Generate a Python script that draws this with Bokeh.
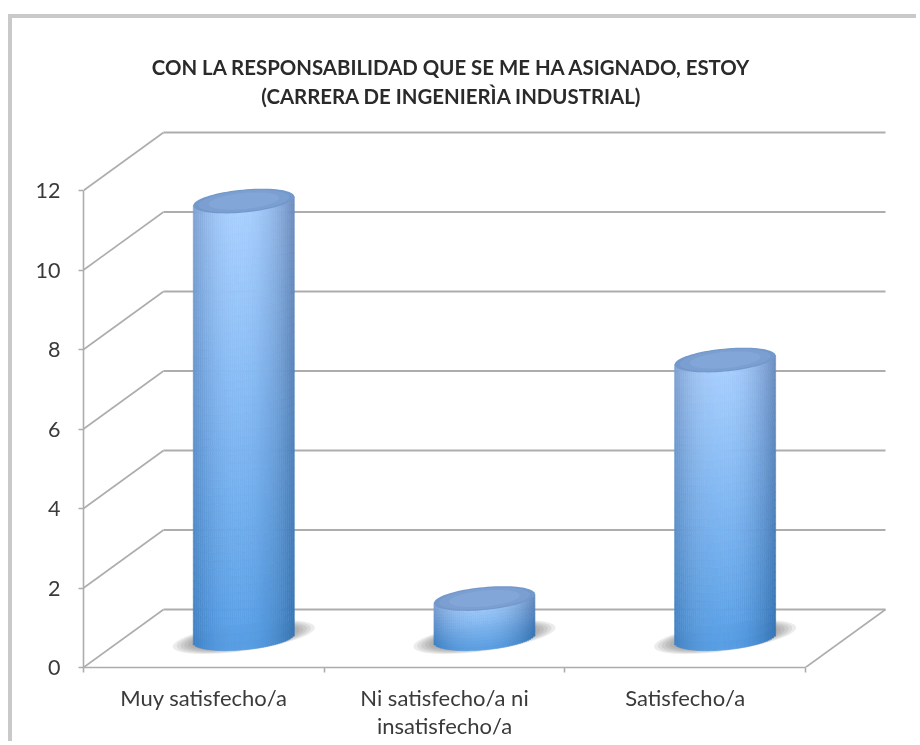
import numpy as np
from bokeh.embed import file_html
from bokeh.resources import INLINE
from bokeh.plotting import figure
from bokeh.models import Range1d, FixedTicker, LinearAxis, Label, ColumnDataSource, InlineStyleSheet

categories = ["Muy satisfecho/a", "Ni satisfecho/a ni\ninsatisfecho/a", "Satisfecho/a"]
values = [11, 1, 7]
y_ticks = [0, 2, 4, 6, 8, 10, 12]
title_lines = ["CON LA RESPONSABILIDAD QUE SE ME HA ASIGNADO, ESTOY", "(CARRERA DE INGENIERÌA INDUSTRIAL)"]

PX_X, PX_Y = 240.67, 39.75     # pixels per category, pixels per value unit
DEPTH_X, DEPTH_Y = 80 / PX_X, 58 / PX_Y
BAR_DX, BAR_DY = 0.166, 0.735  # cylinder axis position within the depth
R, B, TILT = 50.5 / PX_X, 11.5 / PX_Y, 4.5 / PX_Y
FONT = "Lato"
TXT = "#3a3a3a"

W, H = 908, 727
L, T = 71, 0
Rm, Bm = 28, 78
fw, fh = W - L - Rm, H - T - Bm

p = figure(width=W, height=H, output_backend="svg", toolbar_location=None,
           x_range=Range1d(0, fw / PX_X), y_range=Range1d(0, fh / PX_Y),
           x_axis_type=None, y_axis_type=None,
           min_border_left=L, min_border_right=Rm, min_border_top=T, min_border_bottom=Bm)
p.outline_line_color = None
p.grid.visible = False
p.background_fill_color = "white"
p.stylesheets = [InlineStyleSheet(css=":host{margin:14px 0 0 8px;border-left:4px solid #c9c9c9;"
                                      "border-top:4px solid #c9c9c9;filter:blur(0.75px);}")]

# walls and floor
GRID = "#adadad"
nc = len(categories)
p.segment(x0=[0] * len(y_ticks), y0=y_ticks, x1=[DEPTH_X] * len(y_ticks),
          y1=[t + DEPTH_Y for t in y_ticks], line_color=GRID, line_width=1.6)
p.segment(x0=[DEPTH_X] * len(y_ticks), y0=[t + DEPTH_Y for t in y_ticks],
          x1=[nc + DEPTH_X] * len(y_ticks), y1=[t + DEPTH_Y for t in y_ticks],
          line_color=GRID, line_width=1.8)
p.line(x=[nc, nc + DEPTH_X], y=[0, DEPTH_Y], line_color=GRID, line_width=1.6)


def mix(a, b, t):
    return tuple(a[i] + (b[i] - a[i]) * t for i in range(3))


def hexc(c):
    return "#%02x%02x%02x" % tuple(int(round(v)) for v in c)


CEN_TOP, CEN_BOT = (170, 208, 254), (88, 158, 228)
EDGE_TOP, EDGE_BOT = (108, 140, 190), (52, 116, 180)

# shadows
for scale in np.linspace(1.0, 0.62, 8):
    xs, ys = [], []
    for i in range(nc):
        a = np.linspace(0, 2 * np.pi, 60)
        cx = i + 0.5 + BAR_DX
        xs.append(cx + scale * 71 / PX_X * np.cos(a))
        ys.append(BAR_DY + 0.03 + scale * (9.5 * np.cos(a) + 14 * np.sin(a)) / PX_Y)
    p.patches(xs=[list(x) for x in xs], ys=[list(y) for y in ys],
              fill_color="#6e6e6e", fill_alpha=0.13, line_color=None)

# cylinder bodies
q = dict(left=[], right=[], top=[], bottom=[], color=[])
NCOL = 50
for i, v in enumerate(values):
    cx = i + 0.5 + BAR_DX
    nrow = max(16, int(v * 5))
    edges = np.linspace(-1, 1, NCOL + 1)
    for k in range(NCOL):
        u0, u1 = edges[k], edges[k + 1]
        u = (u0 + u1) / 2
        s = np.sqrt(1 - u * u)
        low = BAR_DY + TILT * u - B * s
        high = BAR_DY + v + TILT * u
        h = np.clip(abs(u + 0.08) / 1.08, 0, 1) ** 2.2
        for r in range(nrow):
            f0, f1 = r / nrow, (r + 1) / nrow
            fm = (f0 + f1) / 2
            c = mix(mix(CEN_BOT, CEN_TOP, fm), mix(EDGE_BOT, EDGE_TOP, fm), h)
            q["left"].append(cx + u0 * R)
            q["right"].append(cx + u1 * R)
            q["bottom"].append(low + (high - low) * f0)
            q["top"].append(low + (high - low) * f1)
            q["color"].append(hexc(c))
p.quad(left="left", right="right", top="top", bottom="bottom", fill_color="color",
       line_color="color", line_width=0.6, source=ColumnDataSource(q))

# cylinder caps
for scale, col in [(1.0, "#7398cb"), (0.9, "#7b9fd1"), (0.7, "#82a6d7")]:
    xs, ys = [], []
    for i, v in enumerate(values):
        a = np.linspace(0, 2 * np.pi, 80)
        cx = i + 0.5 + BAR_DX
        xs.append(list(cx + scale * R * np.cos(a)))
        ys.append(list(BAR_DY + v + scale * (TILT * np.cos(a) + B * np.sin(a))))
    p.patches(xs=xs, ys=ys, fill_color=col, line_color=None)

# axes
yax = LinearAxis(ticker=FixedTicker(ticks=y_ticks), bounds=(0, 12))
yax.axis_line_color = GRID
yax.axis_line_width = 1.6
yax.major_tick_line_color = GRID
yax.major_tick_line_width = 1.6
yax.major_tick_out = 5
yax.major_tick_in = 0
yax.minor_tick_line_color = None
yax.major_label_text_font = FONT
yax.major_label_text_font_size = "21.5px"
yax.major_label_text_color = TXT
yax.major_label_standoff = 18
p.add_layout(yax, "left")

xax = LinearAxis(ticker=FixedTicker(ticks=[i + 0.5 for i in range(nc)], minor_ticks=list(range(nc + 1))),
                 bounds=(0, nc))
xax.major_label_overrides = {i + 0.5: c for i, c in enumerate(categories)}
xax.axis_line_color = GRID
xax.axis_line_width = 1.6
xax.major_tick_line_color = None
xax.minor_tick_line_color = GRID
xax.minor_tick_line_width = 1.6
xax.minor_tick_out = 5
xax.minor_tick_in = 0
xax.major_label_text_font = FONT
xax.major_label_text_font_size = "22px"
xax.major_label_text_color = TXT
xax.major_label_text_line_height = 1.05
xax.major_label_standoff = 10
p.add_layout(xax, "below")

# two-line title, placed above the plot through the data scales
title_x = (451 - 83) / PX_X
for line, py in zip(title_lines, [66, 95]):
    p.add_layout(Label(x=title_x, y=(667 - py) / PX_Y, text=line, text_align="center", text_baseline="middle",
                       text_font=FONT, text_font_size="20.4px", text_font_style="bold", text_color="#2a2a2a"))

open("out.html", "w").write(file_html(p, INLINE))
